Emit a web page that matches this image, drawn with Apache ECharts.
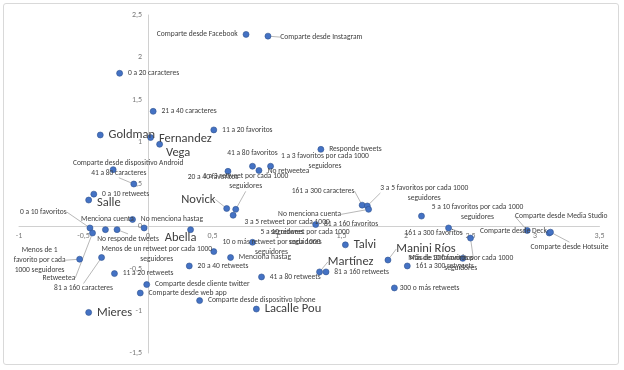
<!DOCTYPE html>
<html><head><meta charset="utf-8">
<script src="https://cdn.jsdelivr.net/npm/echarts@6/dist/echarts.min.js"></script>
<style>
html,body{margin:0;padding:0;background:#fff}
#c{position:absolute;left:0;top:0;width:624px;height:370px}
#frame{position:absolute;left:3px;top:3px;width:614px;height:360px;border:1px solid #d9d9d9;border-radius:3px;pointer-events:none}
</style>
</head><body><div id="c"></div><div id="frame"></div>
<script>
// ---- data ----
const names = [
 "Comparte desde Facebook","Comparte desde Instagram","0 a 20 caracteres","21 a 40 caracteres","11 a 20 favoritos",
 "Goldman","Fernandez","Vega","Comparte desde dispositivo Android","41 a 80 caracteres",
 "0 a 10 retweets","Salle","No menciona hastag","Menciona cuenta","No responde tweets",
 "5 a 10 retweet por cada 1000\nseguidores","Abella","0 a 10 favoritos","Retweetea","Menos de 1\nfavorito por cada\n1000 seguidores",
 "81 a 160 caracteres","Menos de un retweet por cada 1000\nseguidores","11 a 20 retweets","20 a 40 retweets","Comparte desde cliente twitter",
 "Comparte desde web app","Comparte desde dispositivo Iphone","Mieres","Lacalle Pou","41 a 80 retweets",
 "Menciona hastag","10 o más retweet por cada 1000\nseguidores","3 a 5 retweet por cada 1000\nseguidores","Novick","1 a 3 retweet por cada 1000\nseguidores",
 "20 a 40 favoritos","41 a 80 favoritos","1 a 3 favoritos por cada 1000\nseguidores","No retweetea","Responde tweets",
 "161 a 300 caracteres","3 a 5 favoritos por cada 1000\nseguidores","No menciona cuenta","81 a 160 favoritos","Talvi",
 "Martínez","81 a 160 retweets","Manini Ríos","161 a 300 retweets","300 o más retweets",
 "Más de 10 favoritos por cada 1000\nseguidores","Más de 300 favoritos","161 a 300 favoritos","5 a 10 favoritos por cada 1000\nseguidores","Comparte desde Media Studio",
 "Comparte desde Deck","Comparte desde Hotsuite"
];
const xs = [
 0.76,0.93,-0.22,0.04,0.51,
 -0.37,0.02,0.09,-0.27,-0.11,
 -0.42,-0.46,-0.12,-0.33,-0.24,
 -0.03,0.33,-0.45,-0.43,-0.53,
 -0.36,0.51,-0.26,0.32,-0.01,
 -0.06,0.40,-0.46,0.84,0.88,
 0.64,0.81,0.66,0.61,0.68,
 0.62,0.81,0.86,0.95,1.34,
 1.66,1.70,1.71,1.30,1.53,
 1.33,1.38,1.86,2.01,1.91,
 2.44,2.50,2.33,2.12,2.94,
 3.11,3.12
];
const ys = [
 2.27,2.25,1.81,1.36,1.14,
 1.08,1.05,0.97,0.67,0.50,
 0.38,0.31,0.08,-0.04,-0.04,
 -0.02,-0.04,-0.02,-0.08,-0.39,
 -0.37,-0.30,-0.56,-0.47,-0.69,
 -0.79,-0.88,-1.02,-0.98,-0.60,
 -0.37,-0.19,0.13,0.21,0.20,
 0.65,0.71,0.66,0.71,0.91,
 0.25,0.24,0.20,0.02,-0.22,
 -0.54,-0.54,-0.40,-0.47,-0.73,
 -0.38,-0.14,-0.02,0.12,-0.05,
 -0.08,-0.07
];
const bigNames = ["Goldman","Fernandez","Vega","Salle","Abella","Mieres","Lacalle Pou","Novick","Talvi","Martínez","Manini Ríos"];
const xTicks = [-1,-0.5,0,0.5,1,1.5,2,2.5,3,3.5];
const yTicks = [-1.5,-1,-0.5,0,0.5,1,1.5,2,2.5];

// ---- label placement (layout only) ----
const labelPos = [
 "left","right","right","right","right",
 "right","right","right","top","top",
 "right","right","right","top","bottom",
 "inside","inside","left","left","inside",
 "inside","inside","right","right","right",
 "right","right","right","right","right",
 "right","inside","inside","left","inside",
 "inside","top","inside","inside","right",
 "inside","inside","inside","right","right",
 "right","right","right","right","right",
 "inside","inside","inside","inside","inside",
 "left","inside"
];
const labelDx = [
 0,4,0,0,0,
 0,0,-2,15,-15,
 0,0,0,2,11,
 161,-10,-15,-9,-40,
 -18,-57,0,0,0,
 0,0,0,0,0,
 0,19,54,-3,10,
 -15,0,66,18,0,
 -39,57,-59,0,0,
 0,0,0,0,-3,
 -2,-29,-15,56,34,
 6,19
];
const labelDy = [
 0,1,0,0,0,
 0,1,9,7,2,
 0,3,0,3,-4,
 9,8,-16,45,1,
 31,3,0,0,0,
 0,0,0,0,0,
 0,5,12,-9,-28,
 6,0,-9,5,0,
 -14,-13,5,0,0,
 -10,0,-11,0,0,
 5,20,5,-4,-14,
 -2,15
];
const leader = [
 0,1,0,0,0,
 0,0,0,0,1,
 0,0,0,0,1,
 0,0,1,1,1,
 1,0,0,0,0,
 0,0,0,0,0,
 0,0,0,1,1,
 0,0,0,0,0,
 1,1,1,0,0,
 1,0,1,0,0,
 0,1,1,0,1,
 0,1
];

const dec = v => String(v).replace('.', ',');
const font = 'Carlito, Roboto, "Liberation Sans", sans-serif';

const data = names.map((n, i) => {
  const big = bigNames.indexOf(n) >= 0;
  return {
    name: n,
    value: [xs[i], ys[i]],
    label: Object.assign({position: labelPos[i]}, big ? {fontSize: 12.5, color: '#404040'} : {}),
    labelLine: {show: !!leader[i]}
  };
});

const tickStyle = {show: true, color: '#595959', fontSize: 8, fontFamily: font};

const chart = echarts.init(document.getElementById('c'), null, {renderer: 'canvas'});
chart.setOption({
  animation: false,
  backgroundColor: '#fff',
  grid: {left: 19, right: 24.5, top: 15, bottom: 17, containLabel: false},
  xAxis: {
    type: 'value', min: xTicks[0], max: xTicks[xTicks.length - 1], interval: 0.5,
    splitLine: {show: false},
    axisLine: {onZero: true, lineStyle: {color: '#d0d0d0', width: 1}},
    axisTick: {show: false},
    axisLabel: {show: false}
  },
  yAxis: {
    type: 'value', min: yTicks[0], max: yTicks[yTicks.length - 1], interval: 0.5,
    splitLine: {show: false},
    axisLine: {onZero: true, lineStyle: {color: '#d0d0d0', width: 1}},
    axisTick: {show: false},
    axisLabel: {show: false}
  },
  series: [{
    type: 'scatter',
    symbolSize: 6,
    itemStyle: {color: '#4472C4', borderColor: '#2F528F', borderWidth: 0.6, opacity: 1},
    label: {
      show: true, formatter: '{b}', position: 'right', distance: 5,
      fontSize: 7.5, fontFamily: font, color: '#404040', lineHeight: 10
    },
    labelLine: {lineStyle: {color: '#a6a6a6', width: 0.8}, length2: 0},
    labelLayout: function (p) {
      return {dx: labelDx[p.dataIndex], dy: labelDy[p.dataIndex]};
    },
    data: data,
    z: 3
  }, {
    type: 'scatter', silent: true, symbolSize: 0, z: 2,
    label: Object.assign({}, tickStyle, {position: 'bottom', distance: 6, formatter: p => dec(p.value[0])}),
    data: xTicks.map(v => [v, 0])
  }, {
    type: 'scatter', silent: true, symbolSize: 0, z: 2,
    label: Object.assign({}, tickStyle, {position: 'left', distance: 6, formatter: p => dec(p.value[1])}),
    data: yTicks.map(v => [0, v])
  }]
});
</script>
</body></html>
